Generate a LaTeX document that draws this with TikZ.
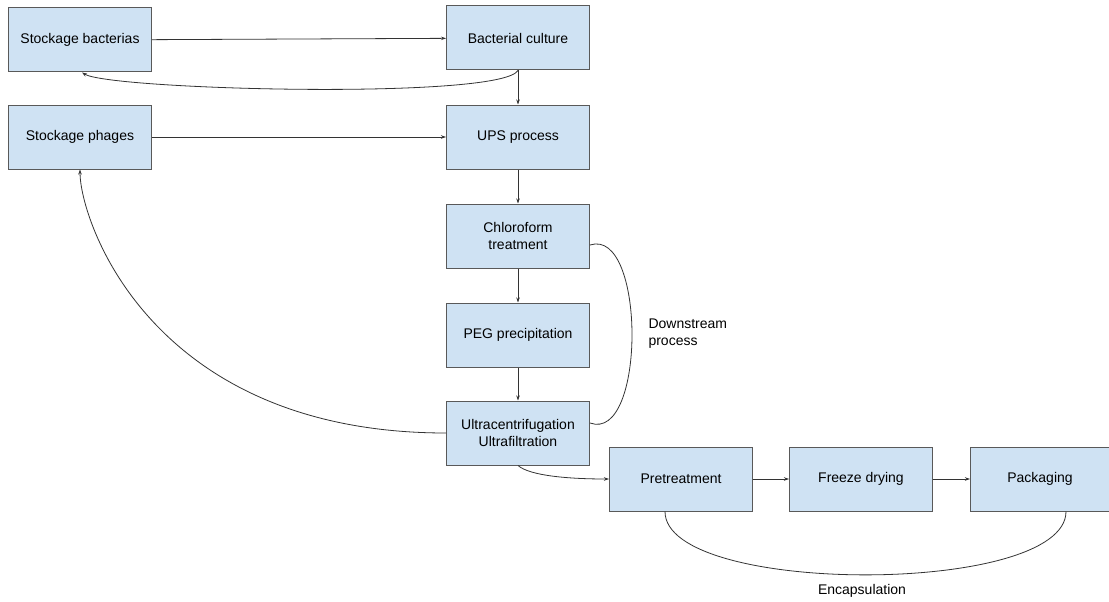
\documentclass[tikz,border=0pt]{standalone}
\usepackage{fontspec}
\setmainfont{Liberation Sans}
\usetikzlibrary{arrows.meta}
\usetikzlibrary{positioning}
\definecolor{boxfill}{HTML}{CFE2F3}
\definecolor{boxline}{HTML}{595959}
\definecolor{linkcol}{HTML}{333333}
\tikzset{
  box/.style={draw=boxline, fill=boxfill, line width=1pt, minimum width=143pt, minimum height=64pt,
    align=center, font=\fontsize{14}{17}\selectfont, inner sep=2pt},
  link/.style={draw=linkcol, line width=0.8pt, -{Stealth[length=5pt,width=3.5pt]}},
  curve/.style={draw=linkcol, line width=0.8pt},
}

\begin{document}
\begin{tikzpicture}[x=1pt,y=-1pt]
    \useasboundingbox (0,0) rectangle (1109,602);
    \node[box] (sb) at (80,40) {Stockage bacterias};
    \node[box] (bc) at (518,38) {Bacterial culture};
    \node[box] (sp) at (80,137) {Stockage phages};
    \node[box] (ups) at (518,137) {UPS process};
    \node[box] (ct) at (518,236) {Chloroform\\treatment};
    \node[box] (peg) at (518,335) {PEG precipitation};
    \node[box] (uu) at (518,433) {Ultracentrifugation\\Ultrafiltration};
    \node[box] (pre) at (681,479) {Pretreatment};
    \node[box] (fd) at (861,479) {Freeze drying};
    \node[box, minimum width=139pt] (pack) at (1040,479) {Packaging};
    \draw[link] (sb) -- (bc);
    \draw[link] (sp) -- (ups);
    \draw[link] (bc) -- (ups);
    \draw[link] (ups) -- (ct);
    \draw[link] (ct) -- (peg);
    \draw[link] (peg) -- (uu);
    \draw[link] (pre) -- (fd);
    \draw[link] (fd) -- (pack);
    \draw[link] (bc.south) .. controls (500,100) and (110,90) .. ([xshift=2pt]sb.south);
    \draw[link] (uu.west) .. controls (150,433) and (80,220) .. (sp.south);
    \draw[link] (uu.south) .. controls (530,476) and (570,479) .. (pre.west);
    \draw[curve] ([yshift=-9pt]ct.east) .. controls (646,227) and (646,443) .. ([yshift=10pt]uu.east);
    \draw[curve] ([xshift=-16pt]pre.south) .. controls (665,596) and (1066,596) .. ([xshift=26pt]pack.south);
    \node[align=left, anchor=west, font=\fontsize{14}{17}\selectfont] (ds) at (645,334) {Downstream\\process};
    \node[font=\fontsize{14}{17}\selectfont] (enc) at (862,591) {Encapsulation};
\end{tikzpicture}
\end{document}
